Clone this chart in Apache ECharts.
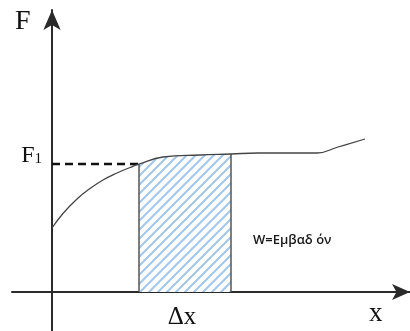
<!DOCTYPE html>
<html><head><meta charset="utf-8">
<script src="https://cdn.jsdelivr.net/npm/echarts@6/dist/echarts.min.js"></script>
<style>html,body{margin:0;padding:0;background:#fff}#c{width:410px;height:331px}</style>
</head><body><div id="c"></div>
<script>
// Curve F(x) (arbitrary units)
var curveX = [0, 1.1, 2.5, 3.8, 5.1, 6.5, 7.8, 8.7, 11.1, 14.8, 17.9, 20.6, 24.0, 26.5, 28.6, 31.3];
var curveF = [6.4, 7.85, 9.3, 10.35, 11.2, 11.9, 12.45, 12.8, 13.5, 13.7, 13.8, 13.9, 13.9, 13.9, 14.5, 15.3];
var F1 = 12.8;
var dxStart = 8.7, dxEnd = 17.9;
var dxLabelAt = 13.0;
var labelF = 'F', labelX = 'x', labelDx = 'Δx', labelW = 'W=Εμβαδ όν';

var curve = curveX.map(function(x, i){ return [x, curveF[i]]; });
var areaPts = curve.filter(function(p){ return p[0] >= dxStart && p[0] <= dxEnd; });
function fAt(x){ for (var i=0;i<curve.length;i++) if (curve[i][0]===x) return curve[i][1]; return F1; }

// hatch pattern
var N = 9;
var cv = document.createElement('canvas'); cv.width = N; cv.height = N;
var cx = cv.getContext('2d');
cx.fillStyle = '#ffffff'; cx.fillRect(0,0,N,N);
cx.strokeStyle = '#a3c7ea'; cx.lineWidth = 2;
cx.beginPath();
cx.moveTo(0, N); cx.lineTo(N, 0);
cx.moveTo(-2, 2); cx.lineTo(2, -2);
cx.moveTo(N-2, N+2); cx.lineTo(N+2, N-2);
cx.stroke();

var chart = echarts.init(document.getElementById('c'), null, {renderer:'canvas'});
var axisCol = '#2a2a2a';
chart.setOption({
  animation: false,
  grid: {left: 12, right: 0, top: 10, bottom: 0, containLabel: false, outerBoundsMode: 'none'},
  xAxis: {
    type: 'value', min: -4, max: 35.8,
    splitLine: {show: false}, axisTick: {show: false}, axisLabel: {show: false},
    axisLine: {show: true, onZero: true, symbol: ['none','arrow'], symbolSize: [12, 18],
      lineStyle: {color: axisCol, width: 2}}
  },
  yAxis: {
    type: 'value', min: -3.9, max: 28.2,
    splitLine: {show: false}, axisTick: {show: false}, axisLabel: {show: false},
    axisLine: {show: true, onZero: true, symbol: ['none','arrow'], symbolSize: [13, 20],
      lineStyle: {color: axisCol, width: 2}}
  },
  series: [
    {type: 'line', data: areaPts, smooth: 0.3, symbol: 'none', lineStyle: {width: 0},
      areaStyle: {color: {image: cv, repeat: 'repeat'}, opacity: 1}, z: 1},
    {type: 'line', data: [[0, F1], [dxStart, F1]], symbol: 'none',
      lineStyle: {color: '#111', width: 2.5, type: [8, 5]}, z: 3},
    {type: 'line', data: [[dxStart, 0], [dxStart, fAt(dxStart)]], symbol: 'none',
      lineStyle: {color: '#555', width: 1.5}, z: 2},
    {type: 'line', data: [[dxEnd, 0], [dxEnd, fAt(dxEnd)]], symbol: 'none',
      lineStyle: {color: '#555', width: 1.5}, z: 2},
    {type: 'line', data: curve, smooth: 0.45, symbol: 'none',
      lineStyle: {color: '#444', width: 1.3}, z: 4}
  ]
});
var pF1 = chart.convertToPixel({gridIndex: 0}, [0, F1]);
var pDx = chart.convertToPixel({gridIndex: 0}, [dxLabelAt, 0]);
chart.setOption({
  graphic: [
    {type: 'text', left: 15, top: 8, style: {text: labelF, font: '28px "Liberation Serif"', fill: '#111'}},
    {type: 'text', left: 369, top: 300, style: {text: labelX, font: '27px "Liberation Serif"', fill: '#111'}},
    {type: 'text', left: 253, top: 234, style: {text: labelW, font: '600 13px "Open Sans"', fill: '#1a1a1a'}},
    {type: 'text', x: pF1[0] - 10, y: pF1[1] + 4, style: {
      text: '{a|F}{b|1}', align: 'right', verticalAlign: 'bottom',
      rich: {a: {fontFamily: 'Liberation Serif', fontSize: 24, fill: '#111'},
             b: {fontFamily: 'Liberation Serif', fontSize: 15, fill: '#111', padding: [6, 0, 0, 0]}}}},
    {type: 'text', x: pDx[0], y: pDx[1] + 13, style: {text: labelDx, align: 'center', verticalAlign: 'top',
      font: '25px "Liberation Serif"', fill: '#111'}}
  ]
});
</script></body></html>
